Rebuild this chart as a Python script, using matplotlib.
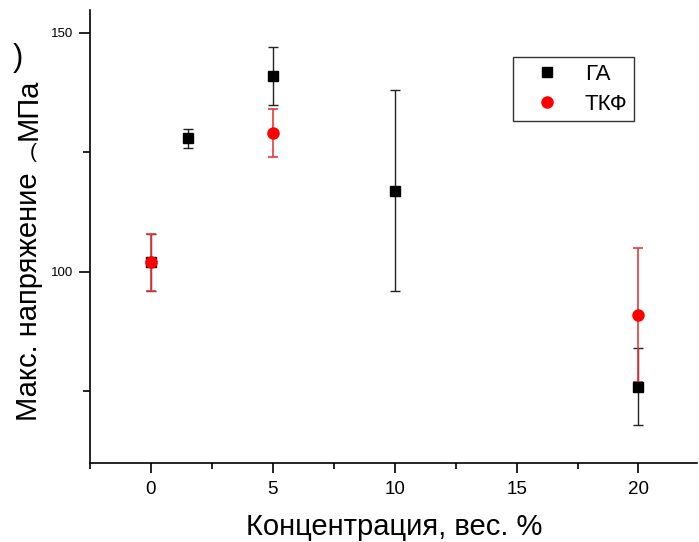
import matplotlib
matplotlib.use("Agg")
import matplotlib.pyplot as plt
from matplotlib.ticker import MultipleLocator

plt.rcParams['font.family'] = ['Liberation Sans', 'DejaVu Sans']

# ГА series
ga_x = [0, 1.5, 5, 10, 20]
ga_y = [102, 128, 141, 117, 76]
ga_err = [6, 2, 6, 21, 8]

# ТКФ series
tkf_x = [0, 5, 20]
tkf_y = [102, 129, 91]
tkf_err = [6, 5, 14]

x_ticks = [0, 5, 10, 15, 20]
y_ticks = [100, 150]

W, H = 699, 542


def fx(px):
    return px / W


def fy(py):
    return 1 - py / H


fig = plt.figure(figsize=(W / 100, H / 100), dpi=100)
ax = fig.add_axes([fx(90), fy(463), fx(697) - fx(90), fy(10) - fy(463)])

# error bars first, markers on top
ax.errorbar(ga_x, ga_y, yerr=ga_err, fmt='none', ecolor='#222222',
            elinewidth=1.0, capsize=3.6, capthick=1.0, zorder=2)
ax.errorbar(tkf_x, tkf_y, yerr=tkf_err, fmt='none', ecolor='#e8393b',
            elinewidth=1.2, capsize=3.6, capthick=1.2, zorder=3)
ax.plot(ga_x, ga_y, 's', color='black', markersize=7.2, zorder=4, label='ГА')
ax.plot(tkf_x, tkf_y, 'o', color='red', markersize=8, zorder=5, label='ТКФ')

ax.set_xlim(-2.5, 22.4)
ax.set_ylim(60, 154.8)
ax.set_xticks(x_ticks)
ax.xaxis.set_minor_locator(MultipleLocator(2.5))
ax.set_yticks(y_ticks)
ax.yaxis.set_minor_locator(MultipleLocator(25))

for s in ['top', 'right']:
    ax.spines[s].set_visible(False)
for s in ['left', 'bottom']:
    ax.spines[s].set_linewidth(1.2)

ax.tick_params(axis='x', which='major', direction='out', length=7, width=1.2,
               labelsize=13.5, pad=6)
ax.tick_params(axis='x', which='minor', direction='out', length=4, width=1.2)
ax.tick_params(axis='y', which='major', direction='out', length=8, width=1.2,
               labelsize=9.5, pad=4)
ax.tick_params(axis='y', which='minor', direction='out', length=5, width=1.2)

# axis titles
fig.text(fx(394), fy(535), 'Концентрация, вес. %', fontsize=21,
         ha='center', va='baseline')
fig.text(fx(37), fy(421), 'Макс. напряжение', fontsize=21, rotation=90,
         rotation_mode='anchor', ha='left', va='baseline')
fig.text(fx(37), fy(140), 'МПа', fontsize=21, rotation=90,
         rotation_mode='anchor', ha='left', va='baseline')
# the brackets stay upright
fig.text(fx(33), fy(152), '(', fontsize=15, ha='center', va='center')
fig.text(fx(18), fy(58), ')', fontsize=22, ha='center', va='center')

leg = ax.legend(loc='upper left', bbox_to_anchor=(fx(513), fy(57)),
                bbox_transform=fig.transFigure, borderaxespad=0,
                fontsize=16, frameon=True, fancybox=False, edgecolor='black',
                handletextpad=0.43, borderpad=0.3, labelspacing=0.4,
                handlelength=2.5)
leg.get_frame().set_linewidth(1.0)

fig.savefig('out.png', dpi=100)
